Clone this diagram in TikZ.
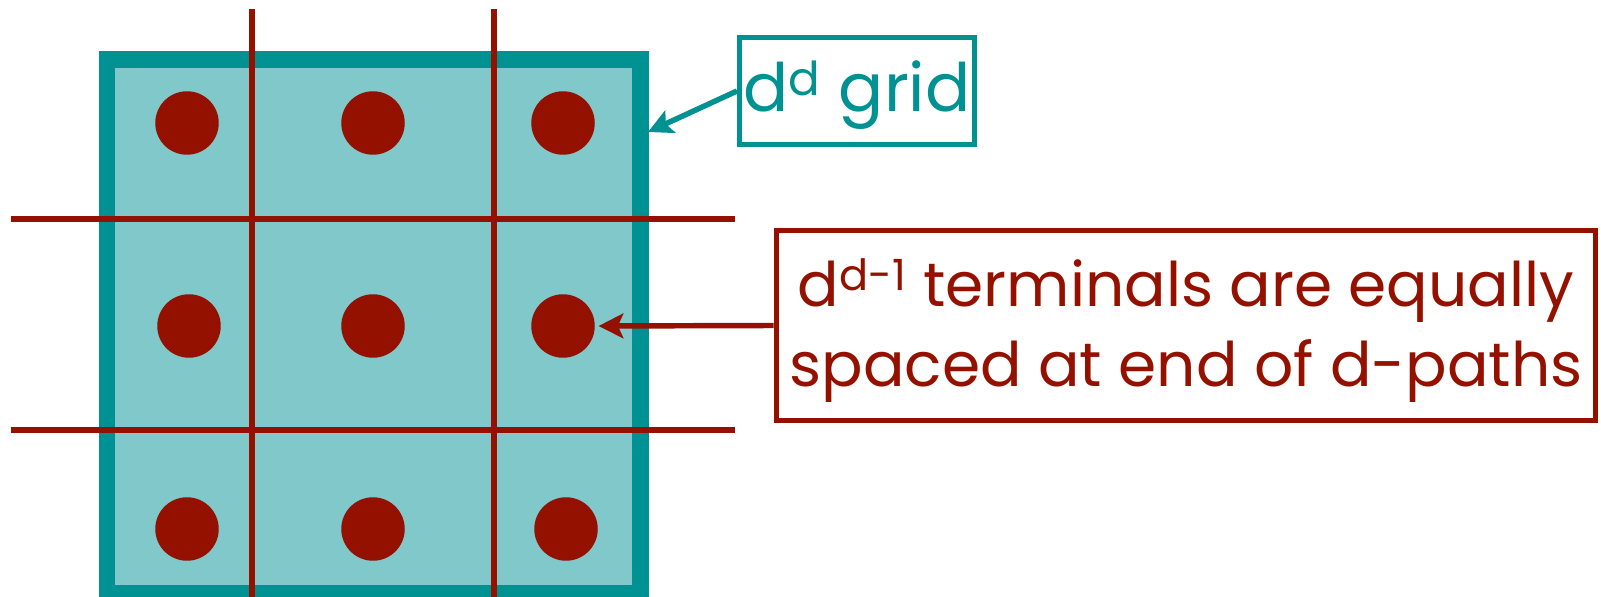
\documentclass[tikz,border=0pt]{standalone}
\usepackage{fontspec}
\setmainfont{Poppins}
\usetikzlibrary{arrows.meta}
\definecolor{gridteal}{HTML}{009193}
\definecolor{cellfill}{HTML}{80C8C9}
\definecolor{wirered}{HTML}{941100}

% one unit = 1px = 0.02cm (0.567pt)
\tikzset{
  wire/.style={wirered, line width=3.1pt},
  terminal/.style={circle, fill=wirered, inner sep=0pt, minimum size=1.27cm},
  gridframe/.style={draw=gridteal, fill=cellfill, line width=9.4pt},
  callout/.style={draw, line width=2.9pt, fill=white, inner sep=0pt, align=center},
  pointer/.style={line width=3.1pt, -{Stealth[length=14pt, width=14pt, inset=3pt]}},
}
% extra room above a label, which lowers it inside its frame
\newcommand{\droptext}[2]{\raisebox{0pt}[\dimexpr\height+#1\relax][\depth]{#2}}

\begin{document}
\begin{tikzpicture}[x=0.02cm, y=-0.02cm]
  \useasboundingbox (0,0) rectangle (1601,597);
  \clip (0,0) rectangle (1601,597);

  % the d x d grid
  \draw[gridframe] (107,59.5) rectangle (640.5,593.5);
  \coordinate (gridedge) at (648,132);

  % cut lines through the grid
  \draw[wire] (252,9) -- (252,610);
  \draw[wire] (494,9) -- (494,610);
  \draw[wire] (11,219) -- (735,219);
  \draw[wire] (11,430) -- (735,430);

  % terminals
  \node[terminal] (d11) at (187,123) {};
  \node[terminal] (d12) at (373,123) {};
  \node[terminal] (d13) at (563,123) {};
  \node[terminal] (d21) at (189,326) {};
  \node[terminal] (d22) at (373,326) {};
  \node[terminal] (d23) at (563,326) {};
  \node[terminal] (d31) at (187,529) {};
  \node[terminal] (d32) at (373,529) {};
  \node[terminal] (d33) at (566,529) {};

  % labels
  \node[callout, draw=gridteal, text=gridteal, minimum width=4.7cm, minimum height=2.14cm,
        font=\fontsize{38}{44}\selectfont] (gridlabel) at (857,91)
        {\droptext{5pt}{d\textsuperscript{d} grid}};
  \node[callout, draw=wirered, text=wirered, minimum width=16.4cm, minimum height=3.8cm,
        font=\fontsize{35}{45.4}\selectfont] (termlabel) at (1186,325.5)
        {\droptext{6pt}{\begin{tabular}{@{}c@{}}
           d\textsuperscript{d-1} terminals are equally\\
           spaced at end of d-paths
         \end{tabular}}};

  % pointers
  \draw[pointer, gridteal] (gridlabel.west) -- (gridedge);
  \draw[pointer, wirered, shorten >=2pt] (termlabel.west) -- (d23.east);
\end{tikzpicture}
\end{document}
